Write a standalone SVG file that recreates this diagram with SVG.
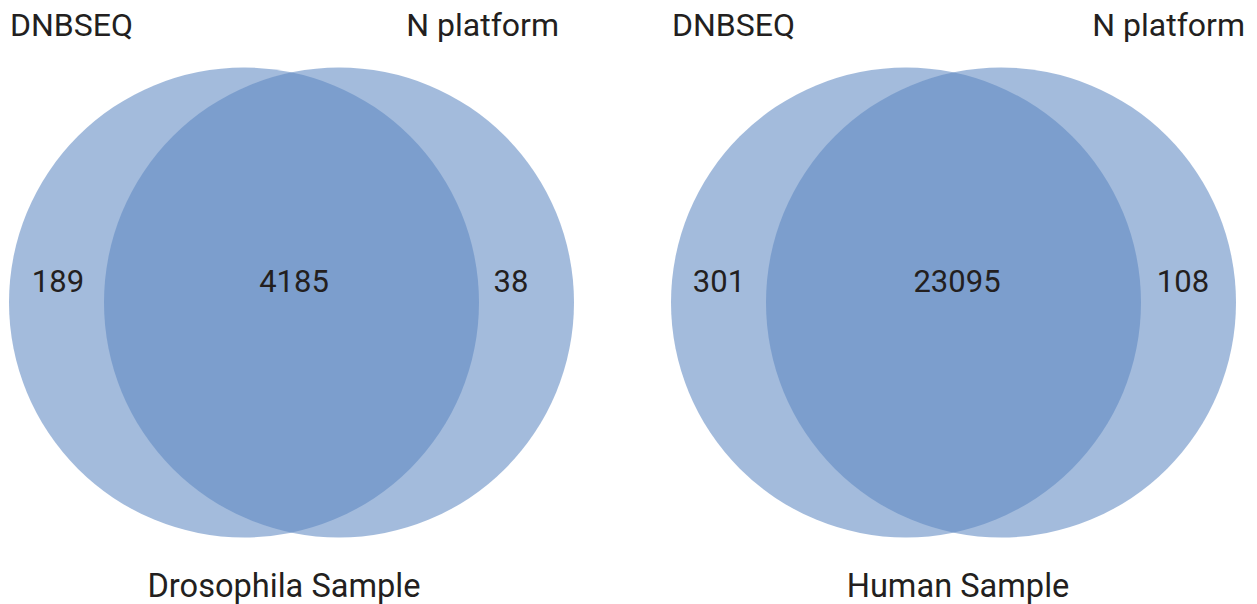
<svg xmlns="http://www.w3.org/2000/svg" width="1257" height="604" viewBox="0 0 1257 604">
<style>
.c{fill:#5f89c2;fill-opacity:0.576}
.t{font-family:Roboto,"Liberation Sans",sans-serif;font-size:31px;fill:#231f20}
.h{font-size:32px}
.b{font-size:32.6px}
.m{text-anchor:middle}
.e{text-anchor:end}
</style>
<rect width="1257" height="604" fill="#ffffff"/>
<g id="drosophila">
<g id="dro-dnbseq"><circle class="c" cx="244" cy="302.5" r="235"/></g>
<g id="dro-nplatform"><circle class="c" cx="339" cy="302.5" r="235"/></g>
<text class="t h" x="10" y="36">DNBSEQ</text>
<text class="t h e" x="559" y="36">N platform</text>
<text class="t m" x="58" y="292">189</text>
<text class="t m" x="294" y="292">4185</text>
<text class="t m" x="511" y="292">38</text>
<text class="t b m" x="284" y="597">Drosophila Sample</text>
</g>
<g id="human">
<g id="hum-dnbseq"><circle class="c" cx="906" cy="302.5" r="235"/></g>
<g id="hum-nplatform"><circle class="c" cx="1001" cy="302.5" r="235"/></g>
<text class="t h" x="672" y="36">DNBSEQ</text>
<text class="t h e" x="1245" y="36">N platform</text>
<text class="t m" x="719" y="292">301</text>
<text class="t m" x="957" y="292">23095</text>
<text class="t m" x="1183" y="292">108</text>
<text class="t b m" x="958" y="597">Human Sample</text>
</g>
<g id="connectors"/>
</svg>
